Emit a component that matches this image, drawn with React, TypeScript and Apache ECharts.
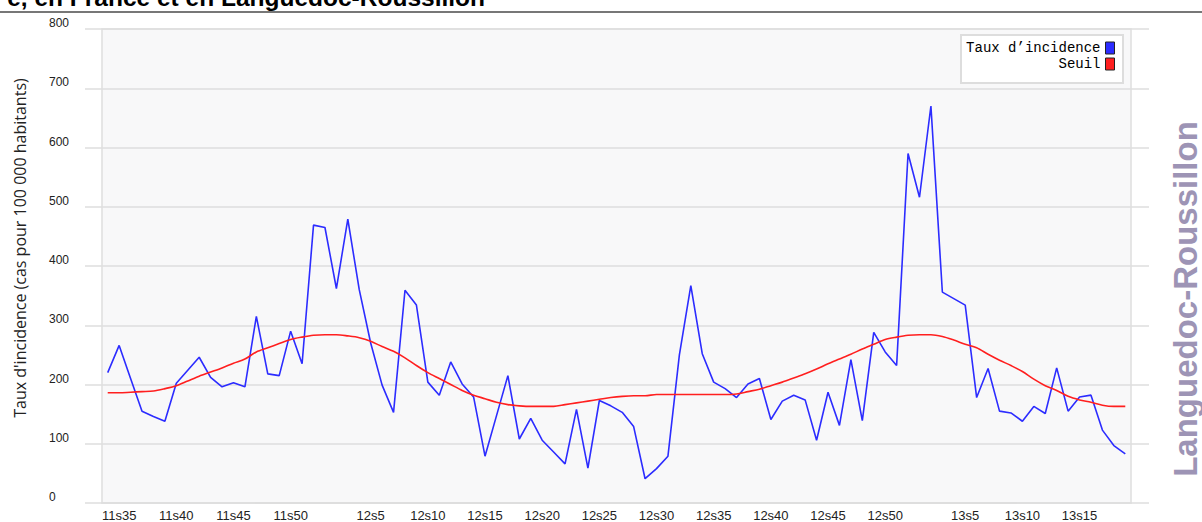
import React, { useEffect, useRef } from 'react';
import * as echarts from 'echarts';

const weeks = [
  '11s34', '11s35', '11s36', '11s37', '11s38', '11s39', '11s40', '11s41', '11s42', '11s43',
  '11s44', '11s45', '11s46', '11s47', '11s48', '11s49', '11s50', '11s51', '11s52',
  '12s1', '12s2', '12s3', '12s4', '12s5', '12s6', '12s7', '12s8', '12s9', '12s10',
  '12s11', '12s12', '12s13', '12s14', '12s15', '12s16', '12s17', '12s18', '12s19', '12s20',
  '12s21', '12s22', '12s23', '12s24', '12s25', '12s26', '12s27', '12s28', '12s29', '12s30',
  '12s31', '12s32', '12s33', '12s34', '12s35', '12s36', '12s37', '12s38', '12s39', '12s40',
  '12s41', '12s42', '12s43', '12s44', '12s45', '12s46', '12s47', '12s48', '12s49', '12s50',
  '12s51', '12s52',
  '13s1', '13s2', '13s3', '13s4', '13s5', '13s6', '13s7', '13s8', '13s9', '13s10',
  '13s11', '13s12', '13s13', '13s14', '13s15', '13s16', '13s17', '13s18', '13s19',
];

const incidence = [
  220, 266, 210, 155, 146, 138, 202, 224, 246, 212,
  196, 203, 196, 315, 218, 215, 290, 235, 469, 465,
  362, 479, 360, 270, 199, 153, 359, 334, 204, 182,
  238, 201, 179, 79, 147, 215, 108, 143, 106, 86,
  66, 158, 59, 173, 164, 153, 129, 41, 58, 79,
  250, 367, 252, 204, 193, 178, 201, 210, 141, 172,
  182, 174, 106, 187, 131, 242, 139, 288, 255, 232,
  590, 516, 670, 356, 345, 334, 178, 227, 155, 152,
  138, 163, 151, 228, 155, 179, 182, 123, 97, 83,
];

const seuil = [
  186, 186, 187, 188, 189, 193, 198, 206, 214, 221,
  228, 236, 243, 255, 262, 269, 276, 280, 283, 284,
  284, 282, 279, 273, 264, 256, 245, 232, 220, 210,
  200, 190, 182, 176, 170, 166, 164, 163, 163, 163,
  166, 169, 172, 175, 178, 180, 181, 181, 183, 183,
  183, 183, 183, 183, 183, 184, 188, 192, 198, 204,
  211, 218, 226, 235, 243, 251, 260, 268, 276, 280,
  283, 284, 284, 281, 275, 268, 262, 251, 241, 232,
  222, 209, 198, 190, 180, 174, 170, 165, 163, 163,
];

const seriesNames = ['Taux d\u2019incidence', 'Seuil'];
const titleText = 'e, en France et en Languedoc-Roussillon';
const regionText = 'Languedoc-Roussillon';
const yAxisTitle = "Taux d'incidence (cas pour 100 000 habitants)";

const showWeek = (_i: number, v: string) => parseInt(v.split('s')[1], 10) % 5 === 0;

export default function App() {
  const ref = useRef<HTMLDivElement>(null);
  useEffect(() => {
    if (!ref.current) return;
    const chart = echarts.init(ref.current, null, { renderer: 'svg' });
    const gridColor = '#dedede';
    const labelFont = '"Liberation Sans Narrow", "Liberation Sans", Arial, sans-serif';
    chart.setOption({
      animation: false,
      backgroundColor: '#ffffff',
      grid: {
        left: 102, right: 71, top: 29, bottom: 19,
        show: true, backgroundColor: '#f8f8f9', borderColor: gridColor, borderWidth: 1.5,
      },
      legend: [
        {
          data: [seriesNames[0]], right: 87, top: 41, padding: 0, align: 'right',
          itemWidth: 9, itemHeight: 12, icon: 'rect', selectedMode: false,
          itemStyle: { borderColor: '#222', borderWidth: 1 },
          textStyle: { fontFamily: '"Liberation Mono", monospace', fontSize: 14, color: '#000' },
        },
        {
          data: [seriesNames[1]], right: 87, top: 57, padding: 0, align: 'right',
          itemWidth: 9, itemHeight: 12, icon: 'rect', selectedMode: false,
          itemStyle: { borderColor: '#222', borderWidth: 1 },
          textStyle: { fontFamily: '"Liberation Mono", monospace', fontSize: 14, color: '#000' },
        },
      ],
      xAxis: {
        type: 'category', data: weeks, boundaryGap: true,
        axisLine: { lineStyle: { color: gridColor, width: 1.5 } },
        axisTick: { interval: showWeek, alignWithLabel: true, length: 5, lineStyle: { color: '#cccccc' } },
        axisLabel: { interval: showWeek, margin: 6, fontSize: 13, color: '#222', fontFamily: labelFont },
        splitLine: { show: false },
      },
      yAxis: [
        {
          type: 'value', min: 0, max: 800, interval: 100,
          name: yAxisTitle, nameLocation: 'middle', nameGap: 74, nameRotate: 90,
          nameTextStyle: {
            fontFamily: '"Open Sans", sans-serif', fontSize: 16, color: '#222',
            padding: [0, 0, 0, 36],
          },
          axisLine: { show: false },
          axisTick: { show: true, length: 17, lineStyle: { color: gridColor, width: 1.5 } },
          axisLabel: {
            align: 'left', margin: 53, verticalAlign: 'bottom', lineHeight: 12,
            fontSize: 12, color: '#222', fontFamily: labelFont,
          },
          splitLine: { lineStyle: { color: gridColor, width: 1.5 } },
        },
        {
          type: 'value', min: 0, max: 800, interval: 100, position: 'right',
          axisLine: { show: false },
          axisTick: { show: true, length: 18, lineStyle: { color: gridColor, width: 1.5 } },
          axisLabel: { show: false },
          splitLine: { show: false },
        },
      ],
      graphic: [
        {
          type: 'text', x: 485, y: -3, z: 10,
          style: {
            text: titleText, align: 'right', verticalAlign: 'middle',
            font: 'bold 24.5px "Liberation Sans", Arial, sans-serif', fill: '#000',
          },
        },
        {
          type: 'line', z: 10,
          shape: { x1: 0, y1: 12, x2: 1202, y2: 12 },
          style: { stroke: '#777777', lineWidth: 2 },
        },
        {
          type: 'text', x: 1185, y: 299, rotation: Math.PI / 2, z: 10,
          style: {
            text: regionText, align: 'center', verticalAlign: 'middle',
            font: 'bold 33px "Liberation Sans", Arial, sans-serif', fill: '#9d94b5',
          },
        },
        {
          type: 'rect', z: 3,
          shape: { x: 961, y: 35, width: 162, height: 48 },
          style: { fill: '#ffffff', stroke: '#dddddd', lineWidth: 2 },
        },
      ],
      series: [
        {
          name: seriesNames[0], type: 'line', data: incidence, symbol: 'none',
          color: '#2c2cff', lineStyle: { color: '#2c2cff', width: 1.6 }, z: 2,
        },
        {
          name: seriesNames[1], type: 'line', data: seuil, symbol: 'none', smooth: 0.3,
          color: '#ff1f1f', lineStyle: { color: '#ff1f1f', width: 1.6 }, z: 2,
        },
      ],
    });
    return () => chart.dispose();
  }, []);
  return <div ref={ref} style={{ position: 'fixed', left: 0, top: 0, width: 1202, height: 522 }} />;
}
